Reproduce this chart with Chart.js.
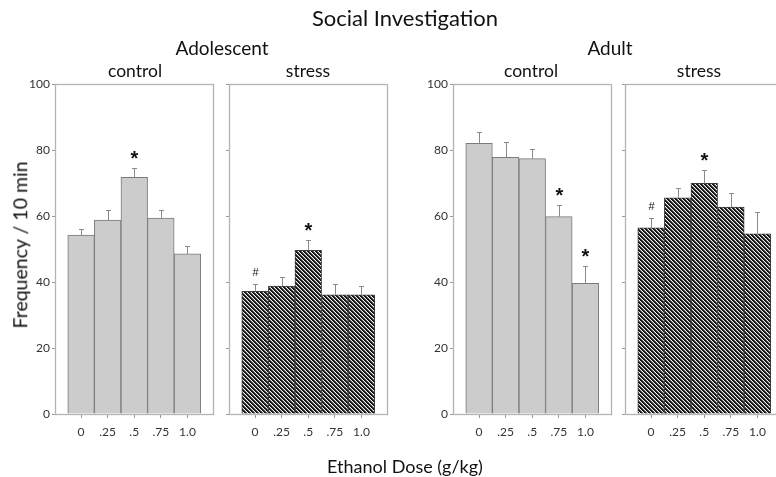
<!DOCTYPE html>
<html><head><meta charset="utf-8">
<script src="https://cdn.jsdelivr.net/npm/chart.js@4/dist/chart.umd.min.js"></script>
<style>
html,body{margin:0;padding:0;background:#fff;}
#wrap{position:relative;width:776px;height:477px;overflow:hidden;font-family:Lato,'Open Sans',sans-serif;color:#111;}
canvas.p{position:absolute;left:0;top:0;width:800px;height:477px;}
.t{position:absolute;white-space:nowrap;transform:translate(-50%,-50%);line-height:1;}
</style></head><body>
<div id="wrap">
<canvas id="c1" class="p" width="800" height="477"></canvas>
<canvas id="c2" class="p" width="800" height="477"></canvas>
<canvas id="c3" class="p" width="800" height="477"></canvas>
<canvas id="c4" class="p" width="800" height="477"></canvas>
<div class="t" style="left:405px;top:18px;font-size:22px">Social Investigation</div>
<div class="t" style="left:222px;top:47px;font-size:19px">Adolescent</div>
<div class="t" style="left:610px;top:47px;font-size:19px">Adult</div>
<div class="t" style="left:135px;top:71px;font-size:17.5px">control</div>
<div class="t" style="left:308px;top:71px;font-size:17.5px">stress</div>
<div class="t" style="left:531px;top:71px;font-size:17.5px">control</div>
<div class="t" style="left:699px;top:71px;font-size:17.5px">stress</div>
<div class="t" style="left:405px;top:466px;font-size:18px">Ethanol Dose (g/kg)</div>
<div class="t" style="left:20px;top:245px;font-size:19.5px;transform:translate(-50%,-50%) rotate(-90deg)">Frequency / 10 min</div>
</div>
<script>
// ---- data ----
const doseLabels = ['0', '.25', '.5', '.75', '1.0'];
const yTicks = [0, 20, 40, 60, 80, 100];

const adoControl = [54.2, 58.8, 71.7, 59.4, 48.5];
const adoControlSem = [1.8, 3.1, 2.8, 2.5, 2.3];
const adoControlSig = ['', '', '*', '', ''];

const adoStress = [37.2, 38.8, 49.6, 36.1, 36.1];
const adoStressSem = [2.1, 2.7, 3.1, 3.4, 2.6];
const adoStressSig = ['#', '', '*', '', ''];

const adultControl = [82.0, 77.8, 77.4, 59.8, 39.6];
const adultControlSem = [3.4, 4.7, 3.0, 3.6, 5.2];
const adultControlSig = ['', '', '', '*', '*'];

const adultStress = [56.4, 65.5, 69.9, 62.7, 54.6];
const adultStressSem = [2.9, 3.1, 4.0, 4.4, 6.7];
const adultStressSig = ['#', '', '*', '', ''];

// ---- hatch pattern ----
function makeHatch() {
  const c = document.createElement('canvas');
  c.width = 4; c.height = 4;
  const g = c.getContext('2d');
  const cols = ['#111111', '#1a1a1a', '#6a6a6a', '#f4f4f4'];
  for (let y = 0; y < 4; y++) for (let x = 0; x < 4; x++) {
    g.fillStyle = cols[((x - y) % 4 + 4) % 4];
    g.fillRect(x, y, 1, 1);
  }
  return g.createPattern(c, 'repeat');
}

const decoPlugin = {
  id: 'deco',
  afterDatasetsDraw(chart, args, opts) {
    const ctx = chart.ctx, xs = chart.scales.x, ys = chart.scales.y;
    const vals = opts.values, sem = opts.sem, sig = opts.sig;
    ctx.save();
    ctx.strokeStyle = '#8a8a8a';
    ctx.lineWidth = 1;
    vals.forEach((v, i) => {
      const x = Math.round(xs.getPixelForValue(i)) + 0.5;
      const y0 = ys.getPixelForValue(v);
      const y1 = Math.round(ys.getPixelForValue(v + sem[i])) + 0.5;
      ctx.beginPath();
      ctx.moveTo(x, y0); ctx.lineTo(x, y1);
      ctx.moveTo(x - 2.5, y1); ctx.lineTo(x + 2.5, y1);
      ctx.stroke();
      const s = sig[i];
      if (s) {
        ctx.fillStyle = '#111';
        ctx.textAlign = 'center';
        ctx.textBaseline = 'middle';
        if (s === '*') {
          ctx.font = 'bold 20px "Liberation Sans", sans-serif';
          ctx.fillText(s, x, y1 - 9);
        } else {
          ctx.font = '11px "Liberation Sans", sans-serif';
          ctx.fillText(s, x, y1 - 12);
        }
      }
    });
    ctx.restore();
  },
  afterDraw(chart) {
    const a = chart.chartArea, ctx = chart.ctx;
    ctx.save();
    ctx.strokeStyle = '#b4b4b4';
    ctx.lineWidth = 1.3;
    ctx.strokeRect(Math.round(a.left) + 0.5, Math.round(a.top) + 0.5, Math.round(a.right - a.left), Math.round(a.bottom - a.top));
    ctx.restore();
  }
};

function makePanel(id, values, sem, sig, hatched, showLabels, L, R) {
  const canvas = document.getElementById(id);
  const fill = hatched ? makeHatch() : '#cccccc';
  return new Chart(canvas, {
    type: 'bar',
    data: {
      datasets: [{
        data: values.map((v, i) => ({ x: i, y: v })),
        backgroundColor: fill,
        borderColor: hatched ? '#3a3a3a' : '#7a7a7a',
        borderWidth: 1,
        barPercentage: 1,
        categoryPercentage: 1
      }]
    },
    plugins: [decoPlugin],
    options: {
      responsive: false,
      animation: false,
      events: [],
      layout: { padding: { left: L - 40, right: 800 - R, top: 84, bottom: 0 } },
      plugins: {
        legend: { display: false }, tooltip: { enabled: false },
        deco: { values, sem, sig }
      },
      scales: {
        x: {
          type: 'linear', min: -0.98, max: 4.96, offset: false,
          afterBuildTicks: s => { s.ticks = doseLabels.map((_, i) => ({ value: i })); },
          afterFit: s => { s.height = 477 - 414 - 0; },
          border: { display: false },
          grid: { offset: false, drawOnChartArea: false, drawTicks: true, tickLength: 4, color: '#9a9a9a' },
          ticks: {
            padding: 7, color: '#333',
            font: { family: 'Lato', size: 12 },
            callback: v => doseLabels[v] ?? '',
            maxRotation: 0, autoSkip: false
          }
        },
        y: {
          min: 0, max: 100,
          afterBuildTicks: s => { s.ticks = yTicks.map(v => ({ value: v })); },
          afterFit: s => { s.width = 40; },
          border: { display: false },
          grid: { drawOnChartArea: false, drawTicks: true, tickLength: 3, color: '#9a9a9a' },
          ticks: {
            padding: 2, color: '#333',
            font: { family: 'Lato', size: 12 },
            callback: v => showLabels ? String(v) : ''
          }
        }
      }
    }
  });
}

makePanel('c1', adoControl, adoControlSem, adoControlSig, false, true, 55, 213);
makePanel('c2', adoStress, adoStressSem, adoStressSig, true, false, 229, 387);
makePanel('c3', adultControl, adultControlSem, adultControlSig, false, true, 453, 611);
makePanel('c4', adultStress, adultStressSem, adultStressSig, true, false, 625, 783);
</script>
</body></html>
